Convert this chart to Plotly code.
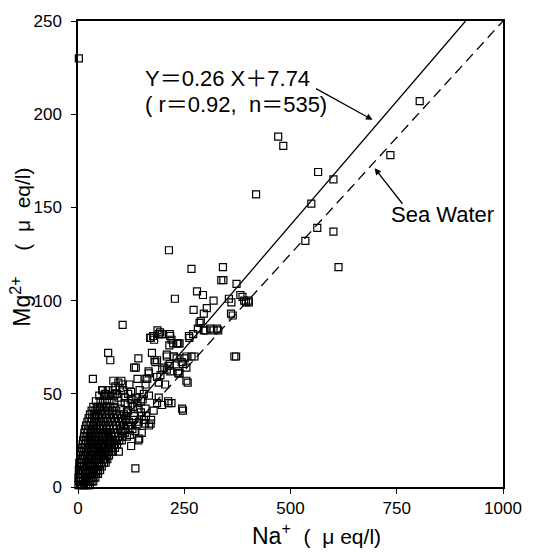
import plotly.graph_objects as go

# ---- scattered / outlying samples (Na+, Mg2+ in ueq/l) ----
na_outer = [2, 804, 735, 471, 483, 419, 565, 601, 549, 563, 535, 601, 613, 368,
            214, 267, 341, 337, 373, 382, 391, 401, 355, 360, 319, 303, 294, 280,
            296, 272, 228, 327, 311, 296, 286, 282, 271, 261, 267, 255, 255, 245,
            216, 215, 233, 226, 236, 244, 209, 193, 187, 197, 177, 170, 174, 180,
            142, 132, 166, 105, 71, 76, 35, 212, 220, 172, 158, 142, 135, 96,
            387, 395, 402, 361, 364, 372, 342, 289, 300, 330, 319]
mg_outer = [230, 207, 178, 188, 183, 157, 169, 165, 152, 139, 132, 137, 118, 70,
            127, 117, 118, 111, 109, 103, 100, 100, 101, 93, 100, 96, 103, 105,
            93, 95, 101, 85, 85, 84, 88, 85, 82, 81, 70, 70, 57, 42,
            82, 76, 77, 70, 62, 67, 71, 83, 84, 82, 81, 80, 72, 68,
            69, 64, 62, 87, 72, 68, 58, 46, 45, 36, 34, 25, 10, 19,
            102, 99, 99, 99, 92, 70, 111, 89, 84, 84, 84]

# ---- medium-density zone ----
na_mid = [136, 182, 203, 216, 255, 247, 236, 140, 163, 159, 190, 205, 102, 98,
          106, 121, 125, 155, 167, 136, 148, 190, 186, 198, 213, 247, 117, 129,
          140, 159, 178, 167, 171, 144, 64, 68, 45, 41, 52, 105, 159, 167, 186,
          171, 178, 190, 198, 217, 236, 209, 225, 274, 232, 251, 186, 213, 198,
          209, 217, 194, 239, 258, 179, 220, 224, 239, 262, 113, 120, 128, 150,
          88, 95, 110, 124, 57, 83, 92, 115, 130,
          105, 112, 118, 125, 132, 140, 148, 155, 110, 118, 128, 100, 135, 145,
          152, 160, 103, 115, 125, 95, 88, 138, 122, 108, 150, 143]
mg_mid = [64, 67, 64, 66, 64, 66, 61, 58, 58, 55, 56, 55, 57, 53,
          52, 55, 51, 50, 49, 48, 46, 48, 45, 44, 45, 41, 45, 43,
          42, 42, 41, 33, 34, 26, 50, 47, 42, 38, 43, 55, 58, 61, 59,
          80, 81, 82, 82, 81, 77, 70, 70, 70, 69, 69, 68, 65, 63,
          63, 62, 60, 61, 56, 79, 79, 77, 77, 80, 38, 35, 31, 38,
          54, 56, 48, 47, 52, 57, 50, 40, 36,
          30, 36, 41, 33, 38, 45, 40, 36, 45, 50, 47, 42, 30, 52,
          47, 38, 25, 27, 22, 48, 50, 33, 28, 39, 29, 35]

# ---- dense core near the origin: Mg2+ level of each row and Na+ of its samples ----
core_mg_rows = [1, 3, 5, 7, 9, 11, 13, 15, 17, 19, 21, 23, 25, 27, 29, 31, 33,
                35, 37, 39, 41, 43, 46, 49, 52]
core_na_rows = [
    [1, 5, 9, 14, 19, 24, 28],
    [2, 7, 12, 17, 22, 27, 32, 36],
    [1, 6, 11, 16, 21, 26, 31, 36, 41],
    [3, 8, 13, 18, 23, 28, 33, 38, 43, 47],
    [2, 7, 12, 17, 22, 27, 32, 37, 42, 47, 52],
    [4, 9, 14, 19, 25, 30, 35, 40, 45, 50, 56],
    [3, 8, 13, 18, 23, 29, 34, 39, 44, 50, 55, 61, 65],
    [5, 10, 15, 21, 26, 31, 37, 42, 48, 53, 59, 64, 69],
    [6, 12, 17, 22, 28, 33, 39, 44, 50, 55, 61, 67, 73],
    [8, 13, 19, 24, 30, 35, 41, 47, 52, 58, 64, 70, 77, 82],
    [9, 15, 20, 26, 32, 38, 43, 49, 55, 61, 67, 73, 80, 87],
    [11, 17, 23, 29, 35, 41, 47, 53, 59, 65, 71, 78, 85, 92],
    [12, 18, 24, 30, 37, 43, 49, 56, 62, 68, 75, 82, 90, 97],
    [14, 20, 27, 33, 40, 46, 53, 59, 66, 72, 79, 87, 95, 104],
    [15, 22, 29, 36, 43, 50, 57, 64, 71, 78, 86, 94, 102, 110],
    [17, 24, 31, 38, 45, 53, 60, 68, 75, 83, 91, 100, 112],
    [19, 27, 35, 42, 50, 58, 66, 74, 82, 90, 99, 108, 118],
    [22, 30, 38, 46, 54, 62, 70, 79, 88, 97, 106],
    [25, 33, 41, 50, 58, 67, 76, 85, 94, 103],
    [28, 37, 46, 55, 64, 73, 83, 92],
    [32, 41, 51, 60, 70, 80, 90],
    [36, 46, 56, 66, 76, 86],
    [42, 53, 63, 74, 85],
    [50, 61, 72, 83],
    [58, 70, 82],
]

# ---- reference lines ----
reg_na = [0, 912]
reg_mg = [7.74, 250]
sea_na = [0, 1000]
sea_mg = [0, 250]

x_tick_step = 250
y_tick_step = 50

core_na, core_mg = [], []
for mg, row in zip(core_mg_rows, core_na_rows):
    for na in row:
        core_na.append(na)
        core_mg.append(mg)

all_na = core_na + na_mid + na_outer
all_mg = core_mg + mg_mid + mg_outer

FONT = "Liberation Sans, Arial, Noto Sans CJK JP, sans-serif"

fig = go.Figure()
fig.add_trace(go.Scatter(x=sea_na, y=sea_mg, mode="lines",
                         line=dict(color="black", width=1.3, dash="10px,6px"),
                         hoverinfo="skip"))
fig.add_trace(go.Scatter(x=reg_na, y=reg_mg, mode="lines",
                         line=dict(color="black", width=1.3), hoverinfo="skip"))
fig.add_trace(go.Scatter(x=all_na, y=all_mg, mode="markers", cliponaxis=False,
                         marker=dict(symbol="square-open", size=7, color="black",
                                     line=dict(width=1.2, color="black"))))

axis_common = dict(showline=True, mirror=True, linecolor="black", linewidth=1.5,
                   showgrid=False, zeroline=False, ticks="outside", ticklen=5,
                   tickcolor="black", tickwidth=1.2,
                   tickfont=dict(family=FONT, size=17, color="black"))
fig.update_xaxes(range=[0, 1000], tickmode="linear", tick0=0, dtick=x_tick_step,
                 ticklabeloverflow="allow", **axis_common)
fig.update_yaxes(range=[0, 250], tickmode="linear", tick0=0, dtick=y_tick_step,
                 ticklabelstandoff=6, **axis_common)

annotations = [
    dict(x=0.561, y=-0.1, xref="paper", yref="paper", showarrow=False,
         xanchor="center", yanchor="middle",
         text="Na<sup>+</sup>  <span style='font-size:21px'>(  μ eq/l)</span>",
         font=dict(family=FONT, size=23, color="black")),
    dict(x=-0.135, y=0.515, xref="paper", yref="paper", showarrow=False,
         xanchor="center", yanchor="middle", textangle=-90,
         text="Mg<sup>2+</sup>    <span style='font-size:21px'>(  μ  eq/l)</span>",
         font=dict(family=FONT, size=23, color="black")),
    dict(x=154, y=219, xref="x", yref="y", showarrow=False, xanchor="left",
         yanchor="middle", text="Y＝0.26 X＋7.74",
         font=dict(family=FONT, size=22, color="black")),
    dict(x=154, y=205, xref="x", yref="y", showarrow=False, xanchor="left",
         yanchor="middle", text="( r＝0.92,  n＝535)",
         font=dict(family=FONT, size=22, color="black")),
    dict(x=732, y=146, xref="x", yref="y", showarrow=False, xanchor="left",
         yanchor="middle", text="Sea Water",
         font=dict(family=FONT, size=22, color="black")),
    dict(x=693, y=197, xref="x", yref="y", text="", showarrow=True,
         ax=-58, ay=-32, arrowhead=2, arrowsize=1, arrowwidth=1.3, arrowcolor="black"),
    dict(x=698, y=171, xref="x", yref="y", text="", showarrow=True,
         ax=29, ay=37, arrowhead=2, arrowsize=1, arrowwidth=1.3, arrowcolor="black"),
]

fig.update_layout(width=534, height=554, margin=dict(l=78, r=16, t=13, b=67),
                  plot_bgcolor="white", paper_bgcolor="white", showlegend=False,
                  font=dict(family=FONT, color="black"), annotations=annotations)

fig.write_html("out.html")
